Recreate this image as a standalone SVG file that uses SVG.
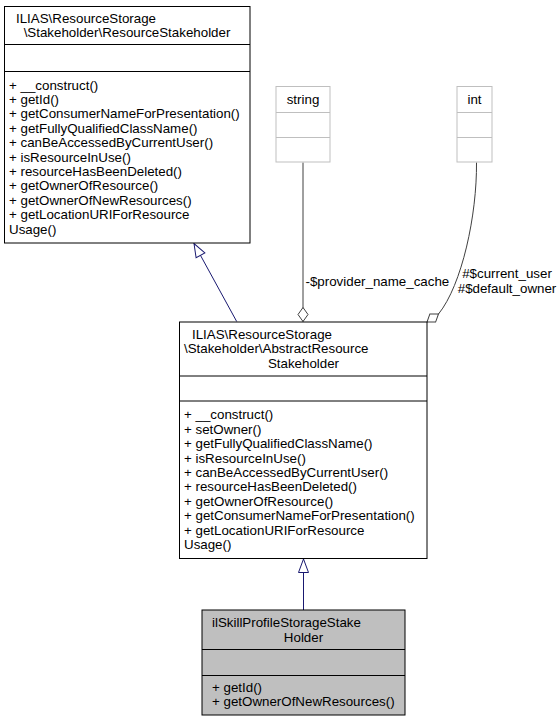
<svg xmlns="http://www.w3.org/2000/svg" width="559" height="721" viewBox="0 0 559 721">
<style>
  text { font-family: "Liberation Sans", Arial, Helvetica, sans-serif; font-size: 13.33px; fill: #000; }
  .box { fill: #fff; stroke: #000; stroke-width: 1; }
  .cur { fill: #bfbfbf; stroke: #000; stroke-width: 1; }
  .ext { fill: #fff; stroke: #bfbfbf; stroke-width: 1; }
  .sep { stroke: #000; stroke-width: 1; }
  .sepx { stroke: #bfbfbf; stroke-width: 1; }
  .c { text-anchor: middle; }
  .inh { fill: none; stroke: #191970; stroke-width: 1; }
  .agg { fill: none; stroke: #404040; stroke-width: 1; }
</style>
<defs>
  <marker id="tri" markerUnits="userSpaceOnUse" orient="auto" refX="13.5" refY="0" markerWidth="16" markerHeight="12" overflow="visible">
    <path d="M0,-5 L13.5,0 L0,5 Z" fill="#fff" stroke="#191970" stroke-width="1"/>
  </marker>
  <marker id="dia" markerUnits="userSpaceOnUse" orient="auto" refX="0" refY="0" markerWidth="16" markerHeight="12" overflow="visible">
    <path d="M0,0 L-7,-5 L-14,0 L-7,5 Z" fill="#fff" stroke="#404040" stroke-width="1"/>
  </marker>
</defs>

<g id="connectors">
  <path class="inh" d="M236.7,321.5 L194,243.5" marker-end="url(#tri)"/>
  <path class="inh" d="M303.5,610 L303.5,559" marker-end="url(#tri)"/>
  <path class="agg" d="M303,162.5 L303,321.5" marker-end="url(#dia)"/>
  <text x="305.5" y="285.5">-$provider_name_cache</text>
  <path class="agg" d="M476.5,162.5 C477,215 462,285 438.5,314 L427,322" marker-end="url(#dia)"/>
  <text class="c" x="507" y="277.5">#$current_user</text>
  <text class="c" x="507" y="292.5">#$default_owner</text>
</g>

<g id="ResourceStakeholder">
  <rect class="box" x="4.5" y="6.5" width="245.5" height="236.5"/>
  <line class="sep" x1="4.5" y1="44.5" x2="250" y2="44.5"/>
  <line class="sep" x1="4.5" y1="71.5" x2="250" y2="71.5"/>
  <text x="16" y="22.6">ILIAS\ResourceStorage</text>
  <text class="c" x="127" y="37">\Stakeholder\ResourceStakeholder</text>
  <text x="9" y="89.5">+ __construct()</text>
  <text x="9" y="103.9">+ getId()</text>
  <text x="9" y="118.3">+ getConsumerNameForPresentation()</text>
  <text x="9" y="132.7">+ getFullyQualifiedClassName()</text>
  <text x="9" y="147.1">+ canBeAccessedByCurrentUser()</text>
  <text x="9" y="161.5">+ isResourceInUse()</text>
  <text x="9" y="175.9">+ resourceHasBeenDeleted()</text>
  <text x="9" y="190.3">+ getOwnerOfResource()</text>
  <text x="9" y="204.7">+ getOwnerOfNewResources()</text>
  <text x="9" y="219.1">+ getLocationURIForResource</text>
  <text x="9" y="233.5">Usage()</text>
</g>

<g id="string">
  <rect class="ext" x="276" y="86.5" width="54" height="75.5"/>
  <line class="sepx" x1="276" y1="112.5" x2="330" y2="112.5"/>
  <line class="sepx" x1="276" y1="137.5" x2="330" y2="137.5"/>
  <text class="c" x="303" y="104">string</text>
</g>

<g id="int">
  <rect class="ext" x="457" y="86.5" width="35" height="75.5"/>
  <line class="sepx" x1="457" y1="112.5" x2="492" y2="112.5"/>
  <line class="sepx" x1="457" y1="137.5" x2="492" y2="137.5"/>
  <text class="c" x="474.5" y="104">int</text>
</g>

<g id="AbstractResourceStakeholder">
  <rect class="box" x="179.5" y="322" width="247.5" height="236.5"/>
  <line class="sep" x1="179.5" y1="376" x2="427" y2="376"/>
  <line class="sep" x1="179.5" y1="401" x2="427" y2="401"/>
  <text x="192" y="338.5">ILIAS\ResourceStorage</text>
  <text x="184" y="353">\Stakeholder\AbstractResource</text>
  <text class="c" x="303.5" y="367.5">Stakeholder</text>
  <text x="184" y="419.3">+ __construct()</text>
  <text x="184" y="433.7">+ setOwner()</text>
  <text x="184" y="448.1">+ getFullyQualifiedClassName()</text>
  <text x="184" y="462.5">+ isResourceInUse()</text>
  <text x="184" y="476.9">+ canBeAccessedByCurrentUser()</text>
  <text x="184" y="491.3">+ resourceHasBeenDeleted()</text>
  <text x="184" y="505.7">+ getOwnerOfResource()</text>
  <text x="184" y="520.1">+ getConsumerNameForPresentation()</text>
  <text x="184" y="534.5">+ getLocationURIForResource</text>
  <text x="184" y="548.9">Usage()</text>
</g>

<g id="ilSkillProfileStorageStakeHolder">
  <rect class="cur" x="202" y="610" width="203" height="105"/>
  <line class="sep" x1="202" y1="649.5" x2="405" y2="649.5"/>
  <line class="sep" x1="202" y1="675.5" x2="405" y2="675.5"/>
  <text x="212" y="627.2">ilSkillProfileStorageStake</text>
  <text class="c" x="303.5" y="641.6">Holder</text>
  <text x="212" y="691.6">+ getId()</text>
  <text x="212" y="706">+ getOwnerOfNewResources()</text>
</g>
</svg>
